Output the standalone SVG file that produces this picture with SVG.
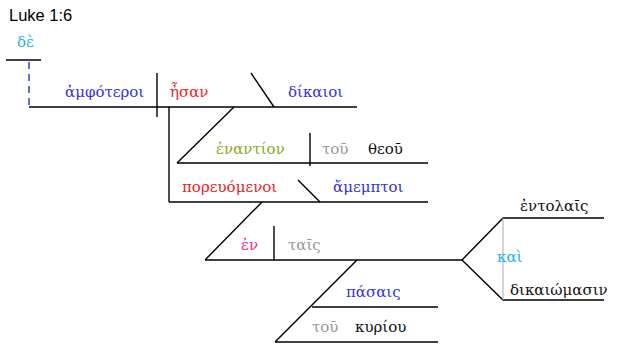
<svg xmlns="http://www.w3.org/2000/svg" width="617" height="345" viewBox="0 0 617 345">
<style>
.l{stroke:#000;stroke-width:1.4;fill:none}
.g{stroke:#aaa;stroke-width:1;fill:none}
.d{stroke:#2233cc;stroke-width:1.4;fill:none;stroke-dasharray:7,5}
text{font-family:"DejaVu Serif","Liberation Serif",serif;font-size:15px}
.t{font-family:"Liberation Sans",Arial,sans-serif;font-size:16.5px;fill:#000}
.conj{fill:#22b4f0}
.subj{fill:#3333dd}
.verb{fill:#ee2222}
.prep{fill:#88aa22}
.art{fill:#999}
.noun{fill:#111}
.pink{fill:#ff2288}
</style>
<rect width="617" height="345" fill="#fff"/>
<text class="t" x="9" y="21">Luke 1:6</text>
<g id="connectors">
<line class="l" x1="6" y1="60" x2="41" y2="60"/>
<line class="d" x1="29" y1="62" x2="29" y2="107"/>
<line class="l" x1="29" y1="107" x2="357" y2="107"/>
<line class="l" x1="157" y1="73" x2="157" y2="117"/>
<line class="l" x1="251" y1="73" x2="274" y2="107"/>
<line class="l" x1="169" y1="107" x2="169" y2="202"/>
<line class="l" x1="234" y1="107" x2="177" y2="163"/>
<line class="l" x1="177" y1="163" x2="428" y2="163"/>
<line class="l" x1="310" y1="133" x2="310" y2="166"/>
<line class="l" x1="169" y1="202" x2="428" y2="202"/>
<line class="l" x1="298" y1="180" x2="320" y2="202"/>
<line class="l" x1="262" y1="202" x2="205" y2="260"/>
<line class="l" x1="205" y1="260" x2="462" y2="260"/>
<line class="l" x1="274" y1="226" x2="274" y2="261"/>
<line class="l" x1="357" y1="260" x2="275" y2="342"/>
<line class="l" x1="312" y1="307" x2="438" y2="307"/>
<line class="l" x1="275" y1="342" x2="438" y2="342"/>
<polyline class="l" points="604,218 503,218 462,260 503,300 604,300"/>
<line class="g" x1="503" y1="218" x2="503" y2="300"/>
</g>
<g id="de"><text class="conj" x="17" y="47">δὲ</text></g>
<g id="amphoteroi"><text class="subj" x="65" y="97">ἀμφότεροι</text></g>
<g id="esan"><text class="verb" x="170" y="97">ἦσαν</text></g>
<g id="dikaioi"><text class="subj" x="288" y="97">δίκαιοι</text></g>
<g id="enantion"><text class="prep" x="216" y="154">ἐναντίον</text></g>
<g id="tou1"><text class="art" x="322" y="154">τοῦ</text></g>
<g id="theou"><text class="noun" x="368" y="154">θεοῦ</text></g>
<g id="poreuomenoi"><text class="verb" x="182" y="192">πορευόμενοι</text></g>
<g id="amemptoi"><text class="subj" x="333" y="192">ἄμεμπτοι</text></g>
<g id="en"><text class="pink" x="241" y="250">ἐν</text></g>
<g id="tais"><text class="art" x="288" y="250">ταῖς</text></g>
<g id="pasais"><text class="subj" x="346" y="297">πάσαις</text></g>
<g id="tou2"><text class="art" x="312" y="332">τοῦ</text></g>
<g id="kyriou"><text class="noun" x="355" y="332">κυρίου</text></g>
<g id="kai"><text class="conj" x="497" y="262">καὶ</text></g>
<g id="entolais"><text class="noun" x="520" y="211">ἐντολαῖς</text></g>
<g id="dikaiomasin"><text class="noun" x="510" y="295">δικαιώμασιν</text></g>
</svg>
